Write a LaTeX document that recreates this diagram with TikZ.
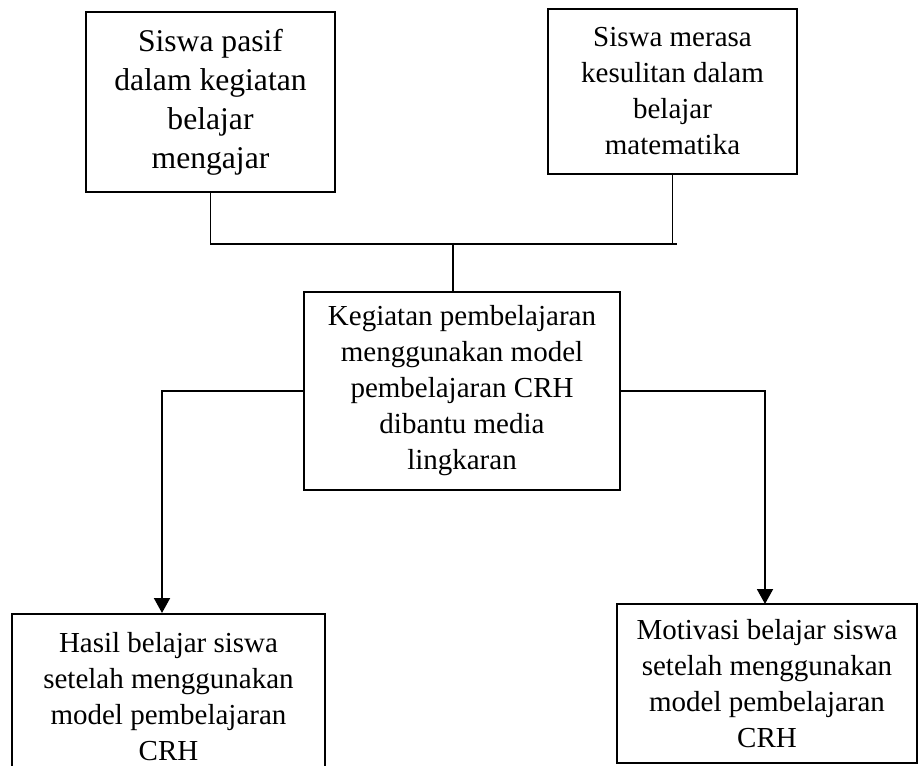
\documentclass[tikz,border=0pt]{standalone}
\usepackage{fontspec}
\setmainfont{Liberation Serif}
\usetikzlibrary{arrows.meta}
\begin{document}
\begin{tikzpicture}[
        x=0.02cm, y=-0.02cm,
        kotak/.style = {
            draw,
            line width = 1.1pt,
            inner sep = 0pt,
            align = center,
            font = \fontsize{16.5}{20.5}\selectfont
        },
        garis/.style = {-, line width = 0.6pt},
        panah/.style = {-{Triangle[width=0.32cm,length=0.3cm]}, line width = 1.1pt}
    ]
    \useasboundingbox (0,0) rectangle (919,766);
    \node[kotak, minimum width=4.98cm, minimum height=3.6cm,
          font=\fontsize{18}{22.2}\selectfont] (pasif) at (210.5,102)
        {Siswa pasif\\dalam kegiatan\\belajar\\mengajar};
    \node[kotak, minimum width=4.98cm, minimum height=3.3cm] (sulit) at (672.5,91.5)
        {Siswa merasa\\kesulitan dalam\\belajar\\matematika};
    \node[kotak, minimum width=6.32cm, minimum height=3.96cm] (crh) at (462,391)
        {Kegiatan pembelajaran\\menggunakan model\\pembelajaran CRH\\dibantu media\\lingkaran};
    \node[kotak, minimum width=6.26cm, minimum height=3.3cm, anchor=north] (hasil) at (168.5,613)
        {Hasil belajar siswa\\setelah menggunakan\\model pembelajaran\\CRH};
    \node[kotak, minimum width=6.0cm, minimum height=3.18cm] (motivasi) at (767,683.5)
        {Motivasi belajar siswa\\setelah menggunakan\\model pembelajaran\\CRH};
    \coordinate (bus) at (453,243);
    \coordinate (busujung) at (677,244);
    \coordinate (masukhasil) at (162,613);
    \coordinate (masukmotivasi) at (765,604);
    \draw[garis] (pasif.south) |- (busujung);
    \draw[garis] (sulit.south) -- (sulit.south |- busujung);
    \draw[garis] (bus) -- (bus |- crh.north);
    \draw[panah] (crh.west) -| (masukhasil);
    \draw[panah] (crh.east) -| (masukmotivasi);
\end{tikzpicture}
\end{document}
